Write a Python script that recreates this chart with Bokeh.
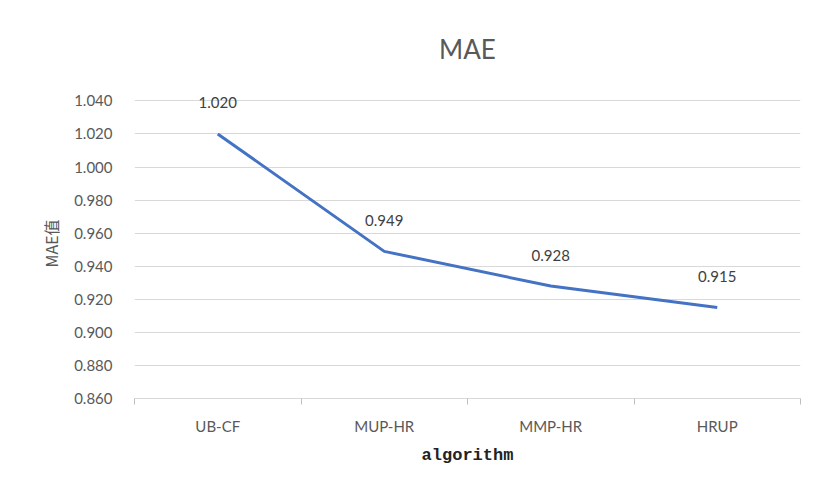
from bokeh.plotting import figure
from bokeh.models import FixedTicker, NumeralTickFormatter, Range1d, ColumnDataSource
from bokeh.core.properties import value
from bokeh.embed import file_html
from bokeh.resources import INLINE

categories = ["UB-CF", "MUP-HR", "MMP-HR", "HRUP"]
mae_values = [1.020, 0.949, 0.928, 0.915]
y_ticks = [0.86, 0.88, 0.90, 0.92, 0.94, 0.96, 0.98, 1.00, 1.02, 1.04]

FONT = "Lato"
GRAY = "#595959"

xs = [i + 0.5 for i in range(len(categories))]
src = ColumnDataSource(dict(x=xs, y=mae_values, lbl=["%.3f" % v for v in mae_values]))

# leave a little head-room above the top gridline so the first data label is not clipped
y_top = y_ticks[-1] + 0.0075

p = figure(width=814, height=497, output_backend="svg", toolbar_location=None,
           x_range=Range1d(0, len(categories)), y_range=Range1d(y_ticks[0], y_top),
           min_border_left=134, min_border_right=14, min_border_top=88, min_border_bottom=99)
p.outline_line_color = None
p.background_fill_color = "white"
p.border_fill_color = "white"
p.styles = {"outline": "1px solid #e6e6e6", "outline-offset": "-8px"}

p.title.text = "MAE"
p.title.align = "center"
p.title.offset = -47
p.title.standoff = 48
p.title.text_font = FONT
p.title.text_font_style = "normal"
p.title.text_font_size = "26px"
p.title.text_color = GRAY

p.line("x", "y", source=src, line_color="#4472C4", line_width=3)
p.text("x", "y", text="lbl", source=src, y_offset=-31, text_align="center",
       text_baseline="middle", text_font=value(FONT), text_font_size="15px", text_color="#404040")

# y axis
p.yaxis.ticker = FixedTicker(ticks=y_ticks)
p.yaxis.formatter = NumeralTickFormatter(format="0.000")
p.yaxis.axis_line_color = None
p.yaxis.major_tick_line_color = None
p.yaxis.minor_tick_line_color = None
p.yaxis.major_label_text_font = FONT
p.yaxis.major_label_text_font_size = "15px"
p.yaxis.major_label_text_color = GRAY
p.yaxis.major_label_standoff = 16
p.yaxis.axis_label = "MAE值"
p.yaxis.axis_label_text_font = "Noto Sans CJK SC"
p.yaxis.axis_label_text_font_style = "normal"
p.yaxis.axis_label_text_font_size = "16px"
p.yaxis.axis_label_text_color = GRAY
p.yaxis.axis_label_standoff = 8
p.ygrid.ticker = FixedTicker(ticks=y_ticks)
p.ygrid.grid_line_color = "#d9d9d9"
p.xgrid.grid_line_color = None

# x axis
p.xaxis.ticker = FixedTicker(ticks=xs, minor_ticks=list(range(len(categories) + 1)))
p.xaxis.major_label_overrides = {x: c for x, c in zip(xs, categories)}
p.xaxis.axis_line_color = "#d9d9d9"
p.xaxis.major_tick_line_color = None
p.xaxis.minor_tick_line_color = "#bfbfbf"
p.xaxis.minor_tick_in = 0
p.xaxis.minor_tick_out = 6
p.xaxis.major_label_text_font = FONT
p.xaxis.major_label_text_font_size = "15px"
p.xaxis.major_label_text_color = GRAY
p.xaxis.major_label_standoff = 12
p.xaxis.axis_label = "algorithm"
p.xaxis.axis_label_text_font = "Liberation Mono"
p.xaxis.axis_label_text_font_style = "bold"
p.xaxis.axis_label_text_font_size = "17px"
p.xaxis.axis_label_text_color = "#222222"
p.xaxis.axis_label_standoff = 8

open("out.html", "w").write(file_html(p, INLINE))
